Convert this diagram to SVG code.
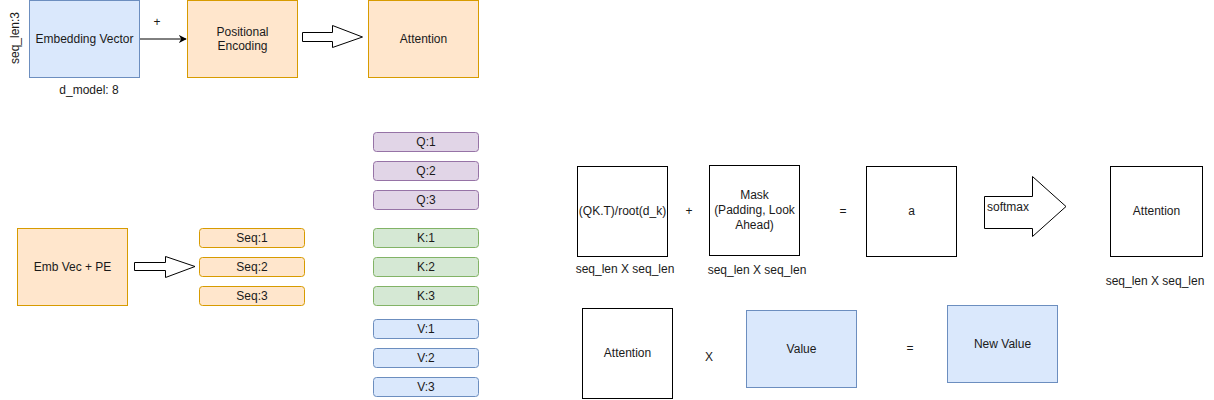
<svg xmlns="http://www.w3.org/2000/svg" width="1214" height="400" viewBox="0 0 1214 400">
<style>
text{font-family:"Liberation Sans",Arial,sans-serif;font-size:12px;fill:#1a1a1a;text-anchor:middle;dominant-baseline:central}
.orange{fill:#ffe6cc;stroke:#d79b00}
.blue{fill:#dae8fc;stroke:#6c8ebf}
.purple{fill:#e1d5e7;stroke:#9673a6}
.green{fill:#d5e8d4;stroke:#82b366}
.plain{fill:#fff;stroke:#000}
.barrow{fill:#fff;stroke:#000}
</style>
<defs>
<marker id="ah" viewBox="0 0 10 10" refX="9" refY="5" markerWidth="8" markerHeight="8" markerUnits="userSpaceOnUse" orient="auto">
<path d="M0,0 L10,5 L0,10 L3,5 Z" fill="#000"/>
</marker>
</defs>
<rect width="1214" height="400" fill="#fff"/>
<g id="connectors">
<line x1="139.5" y1="39" x2="186" y2="39" stroke="#000" marker-end="url(#ah)"/>
<path class="barrow" d="M302.5,32.5 H332.5 V25.5 L362.5,37 L332.5,47.5 V41.5 H302.5 Z"/>
<path class="barrow" d="M134.5,262.5 H165.5 V256.5 L195,266.5 L165.5,277.5 V270.5 H134.5 Z"/>
<path class="barrow" d="M984.5,196.5 H1032.5 V176.5 L1066,206.5 L1032.5,236.5 V228.5 H984.5 Z"/>
</g>
<g id="embedding"><rect class="blue" x="29.5" y="0.5" width="110" height="77"/><text x="84.5" y="39">Embedding Vector</text></g>
<g id="seqlen-label"><text transform="translate(15,38) rotate(-90)">seq_len:3</text></g>
<g id="dmodel-label"><text x="89" y="90">d_model: 8</text></g>
<g id="plus-label"><text x="157" y="22">+</text></g>
<g id="posenc"><rect class="orange" x="187.5" y="0.5" width="110" height="77"/><text x="242.5" y="32">Positional</text><text x="242.5" y="46">Encoding</text></g>
<g id="attention-top"><rect class="orange" x="368.5" y="0.5" width="110" height="77"/><text x="423.5" y="39">Attention</text></g>
<g id="embpe"><rect class="orange" x="17.5" y="228.5" width="110" height="77"/><text x="72.5" y="267">Emb Vec + PE</text></g>
<g id="seq1"><rect class="orange" x="199.5" y="228.5" width="105" height="19" rx="3"/><text x="252" y="238">Seq:1</text></g>
<g id="seq2"><rect class="orange" x="199.5" y="257.5" width="105" height="19" rx="3"/><text x="252" y="267">Seq:2</text></g>
<g id="seq3"><rect class="orange" x="199.5" y="286.5" width="105" height="19" rx="3"/><text x="252" y="296">Seq:3</text></g>
<g id="q1"><rect class="purple" x="373.5" y="132.5" width="105" height="19" rx="3"/><text x="426" y="142">Q:1</text></g>
<g id="q2"><rect class="purple" x="373.5" y="161.5" width="105" height="19" rx="3"/><text x="426" y="171">Q:2</text></g>
<g id="q3"><rect class="purple" x="373.5" y="190.5" width="105" height="19" rx="3"/><text x="426" y="200">Q:3</text></g>
<g id="k1"><rect class="green" x="373.5" y="228.5" width="105" height="19" rx="3"/><text x="426" y="238">K:1</text></g>
<g id="k2"><rect class="green" x="373.5" y="257.5" width="105" height="19" rx="3"/><text x="426" y="267">K:2</text></g>
<g id="k3"><rect class="green" x="373.5" y="286.5" width="105" height="19" rx="3"/><text x="426" y="296">K:3</text></g>
<g id="v1"><rect class="blue" x="373.5" y="319.5" width="105" height="19" rx="3"/><text x="426" y="329">V:1</text></g>
<g id="v2"><rect class="blue" x="373.5" y="348.5" width="105" height="19" rx="3"/><text x="426" y="358">V:2</text></g>
<g id="v3"><rect class="blue" x="373.5" y="377.5" width="105" height="19" rx="3"/><text x="426" y="387">V:3</text></g>
<g id="qkt"><rect class="plain" x="577.5" y="166.5" width="90" height="90"/><text x="622.5" y="211">(QK.T)/root(d_k)</text></g>
<g id="qkt-dim"><text x="625" y="269">seq_len X seq_len</text></g>
<g id="plus2"><text x="689" y="211">+</text></g>
<g id="mask"><rect class="plain" x="709.5" y="165.5" width="90" height="90"/><text x="754.5" y="195">Mask</text><text x="754.5" y="210">(Padding, Look</text><text x="754.5" y="225">Ahead)</text></g>
<g id="mask-dim"><text x="757" y="270">seq_len X seq_len</text></g>
<g id="eq1"><text x="843" y="211">=</text></g>
<g id="a"><rect class="plain" x="866.5" y="166.5" width="90" height="90"/><text x="911.5" y="211">a</text></g>
<g id="softmax"><text x="1008" y="207">softmax</text></g>
<g id="attention-res"><rect class="plain" x="1110.5" y="166.5" width="92" height="90"/><text x="1156.5" y="211">Attention</text></g>
<g id="attn-dim"><text x="1155" y="281">seq_len X seq_len</text></g>
<g id="attention2"><rect class="plain" x="582.5" y="308.5" width="90" height="90"/><text x="627.5" y="353">Attention</text></g>
<g id="times"><text x="709" y="357">X</text></g>
<g id="value"><rect class="blue" x="746.5" y="310.5" width="110" height="77"/><text x="801.5" y="349">Value</text></g>
<g id="eq2"><text x="910" y="348">=</text></g>
<g id="newvalue"><rect class="blue" x="947.5" y="305.5" width="110" height="77"/><text x="1002.5" y="344">New Value</text></g>
</svg>
